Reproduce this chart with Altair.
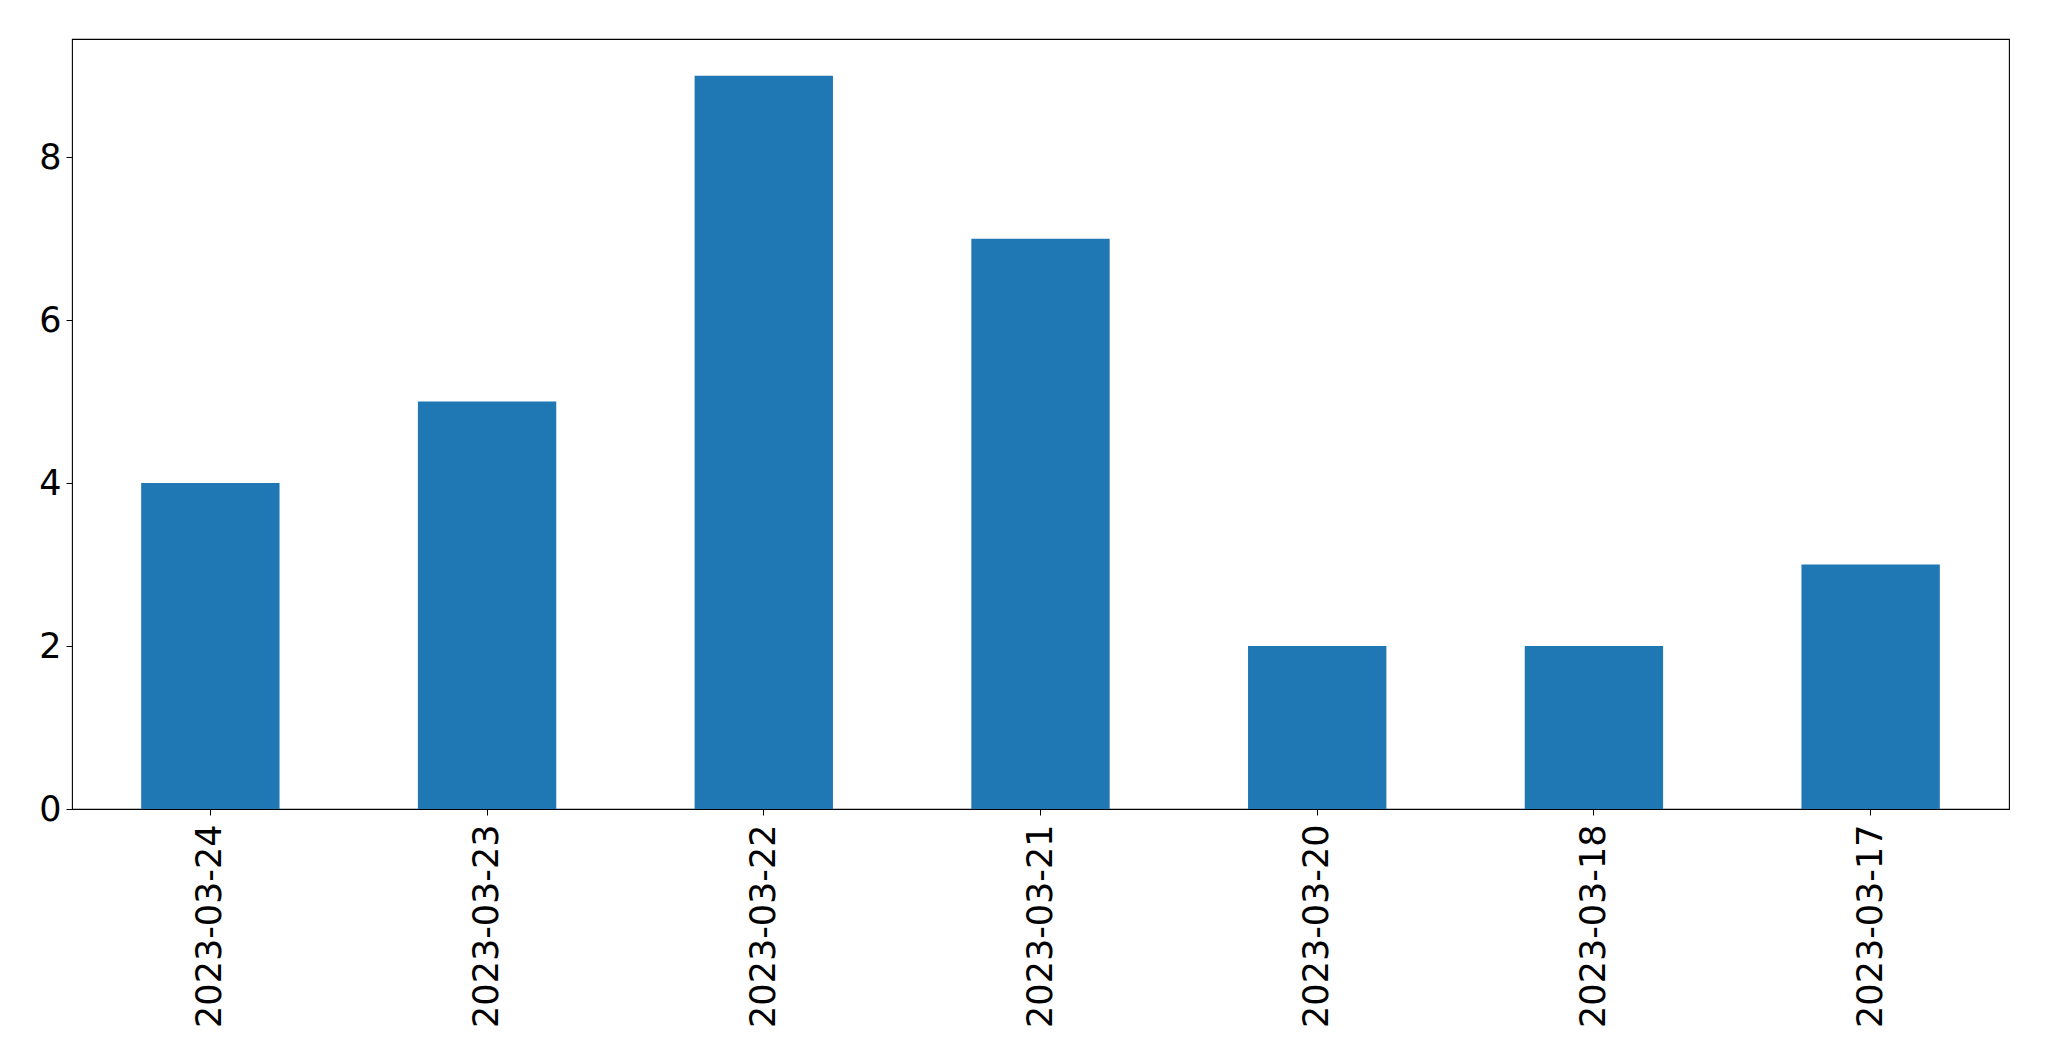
import altair as alt
import pandas as pd

dates = ["2023-03-24", "2023-03-23", "2023-03-22", "2023-03-21",
         "2023-03-20", "2023-03-18", "2023-03-17"]
counts = [4, 5, 9, 7, 2, 2, 3]
y_ticks = [0, 2, 4, 6, 8]

df = pd.DataFrame({"date": dates, "count": counts})

chart = alt.Chart(df).mark_bar(color="#1f77b4").encode(
    x=alt.X("date:N", sort=None,
            scale=alt.Scale(paddingInner=0.5, paddingOuter=0.25),
            axis=alt.Axis(title=None, labelAngle=270, labelFontSize=35,
                          labelFont="DejaVu Sans", labelColor="black",
                          labelLimit=0,
                          tickColor="black", tickSize=6, tickWidth=1,
                          labelPadding=9, domain=False, grid=False)),
    y=alt.Y("count:Q",
            scale=alt.Scale(domain=[0, 9.45], nice=False, zero=True),
            axis=alt.Axis(title=None, values=y_ticks, labelFontSize=35,
                          labelFont="DejaVu Sans", labelColor="black",
                          tickColor="black", tickSize=6, tickWidth=1,
                          labelPadding=5, domain=False, grid=False)),
).properties(
    width=1937, height=770,
    autosize=alt.AutoSizeParams(type="none"),
    padding={"left": 64, "top": 31, "right": 30, "bottom": 240},
).configure_view(stroke="black", strokeWidth=1.1)

chart.save("out.html", embed_options={"renderer": "svg", "actions": False})
